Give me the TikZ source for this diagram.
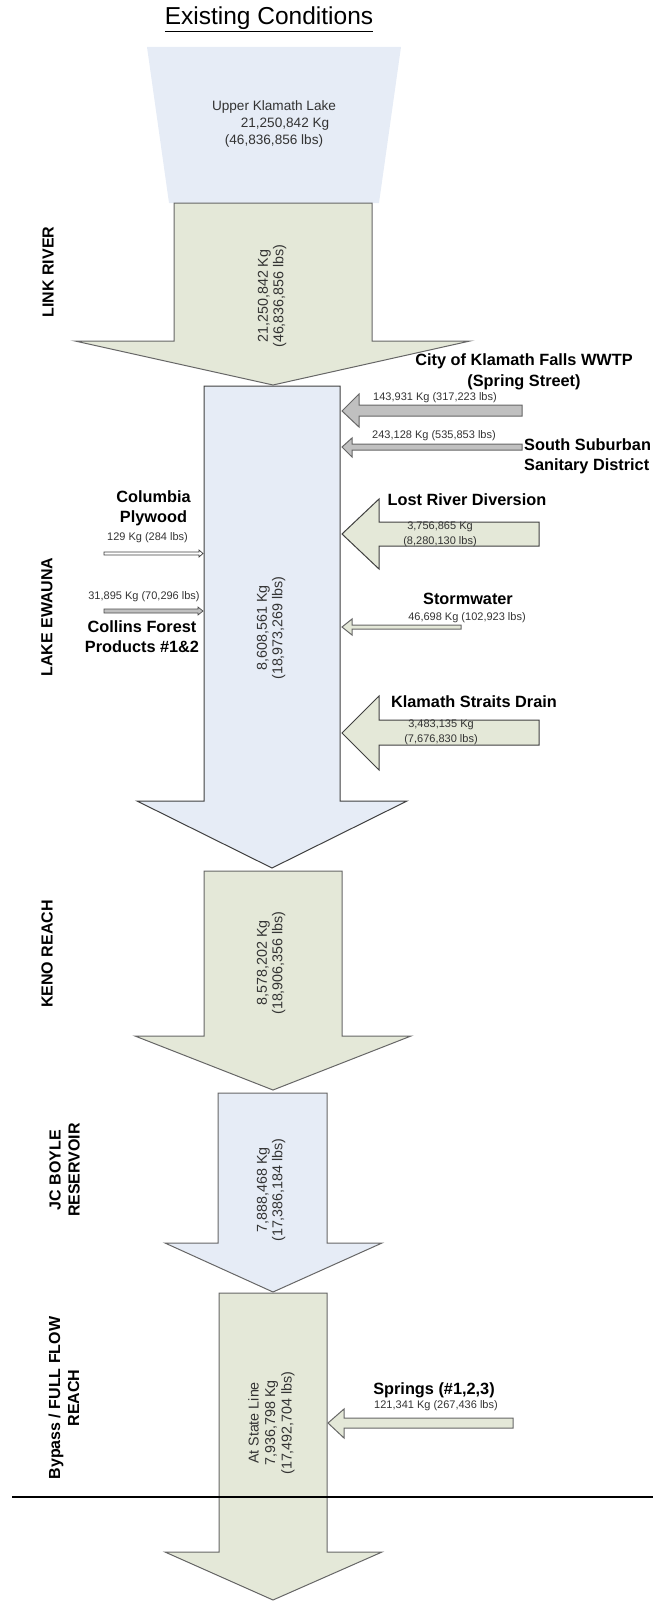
\documentclass[tikz,border=0pt]{standalone}
\usepackage{fontspec}
\setmainfont{Liberation Sans}
\usepackage{tikz}
\usepackage{xcolor}
\usetikzlibrary{positioning}

\definecolor{lakeblue}{RGB}{230,236,246}
\definecolor{reachgreen}{RGB}{228,232,216}
\definecolor{inflowgray}{RGB}{192,192,192}

\begin{document}
\begin{tikzpicture}[x=1pt, y=-1pt,
  flowbody/.style={draw=black!60, line width=1pt, line join=miter},
  sidelbl/.style={font=\bfseries\fontsize{16.3}{19.5}\selectfont, align=center, inner sep=0pt},
  loadlbl/.style={font=\fontsize{11}{15}\selectfont, align=center, inner sep=0pt, text=black!80},
  reachlbl/.style={font=\bfseries\fontsize{16}{19}\selectfont, rotate=90, align=center, inner sep=0pt},
  loadtxt/.style={font=\fontsize{14.3}{15.5}\selectfont, rotate=90, align=center, inner sep=0pt, text=black!80}]
  \useasboundingbox (0,0) rectangle (653,1603);

  % Title
  \node[font=\fontsize{24.5}{29}\selectfont, anchor=base, inner sep=0pt] (title) at (269,25) {\underline{Existing Conditions}};

  % Upper Klamath Lake
  \fill[lakeblue] (147,47) -- (401,47) -- (379,203) -- (169,203) -- cycle;
  \node[font=\fontsize{13.6}{17}\selectfont, align=center, text=black!80, inner sep=0pt] (ukl) at (274,124)
    {Upper Klamath Lake\\\hspace*{22pt}21,250,842 Kg\\(46,836,856 lbs)};

  % Link River
  \draw[flowbody, fill=reachgreen] (174,203) -- (372,203) -- (372,341) -- (470,341) -- (273,385) -- (75,341) -- (174,341) -- cycle;
  \node[loadtxt] (linkload) at (272,296) {21,250,842 Kg\\(46,836,856 lbs)};
  \node[reachlbl] (linkriver) at (48,272) {LINK RIVER};

  % Lake Ewauna
  \draw[flowbody, draw=black!75, fill=lakeblue] (204,386) -- (340,386) -- (340,801) -- (407,801) -- (272,868) -- (137,801) -- (204,801) -- cycle;
  \node[loadtxt] (ewaunaload) at (271,628) {8,608,561 Kg\\(18,973,269 lbs)};
  \node[reachlbl] (ewauna) at (47,617) {LAKE EWAUNA};

  % Inflows from the right
  \draw[flowbody, fill=inflowgray] (342,411) -- (359,394) -- (359,405) -- (522,405) -- (522,416) -- (359,416) -- (359,427) -- cycle;
  \node[sidelbl, font=\bfseries\fontsize{16.3}{21}\selectfont] (wwtp) at (524,371.5) {City of Klamath Falls WWTP\\(Spring Street)};
  \node[loadlbl] (wwtpload) at (435,398) {143,931 Kg (317,223 lbs)};

  \draw[flowbody, fill=inflowgray] (342,447) -- (352,438) -- (352,444) -- (522,444) -- (522,450) -- (352,450) -- (352,457) -- cycle;
  \node[loadlbl] (ssload) at (434,436) {243,128 Kg (535,853 lbs)};
  \node[sidelbl, align=left, anchor=west] (ssd) at (524,456.5) {South Suburban\\Sanitary District};

  \draw[flowbody, draw=black!75, fill=reachgreen] (342,534) -- (379,499) -- (379,522) -- (539,522) -- (539,546) -- (379,546) -- (379,569) -- cycle;
  \node[sidelbl] (lostriver) at (467,500) {Lost River Diversion};
  \node[loadlbl] (lostload) at (440,534.5) {3,756,865 Kg\\(8,280,130 lbs)};

  \draw[flowbody, fill=reachgreen] (342,627) -- (352,619) -- (352,625) -- (461,625) -- (461,629) -- (352,629) -- (352,635) -- cycle;
  \node[sidelbl] (storm) at (468,599) {Stormwater};
  \node[loadlbl] (stormload) at (467,618) {46,698 Kg (102,923 lbs)};

  \draw[flowbody, draw=black!75, fill=reachgreen] (342,733) -- (379,696) -- (379,720) -- (539,720) -- (539,745) -- (379,745) -- (379,770) -- cycle;
  \node[sidelbl] (ksd) at (474,702) {Klamath Straits Drain};
  \node[loadlbl] (ksdload) at (441,732) {3,483,135 Kg\\(7,676,830 lbs)};

  % Inflows from the left
  \draw[draw=black!75, line width=0.7pt, fill=white] (104,552) -- (199,552) -- (199,550) -- (203,553.5) -- (199,557) -- (199,555) -- (104,555) -- cycle;
  \node[sidelbl] (columbia) at (153.5,508.5) {Columbia\\Plywood};
  \node[loadlbl] (columbiaload) at (147.5,538) {129 Kg (284 lbs)};

  \draw[draw=black!70, line width=0.7pt, fill=inflowgray] (104,609) -- (198,609) -- (198,607) -- (203,611) -- (198,615) -- (198,613) -- (104,613) -- cycle;
  \node[loadlbl] (collinsload) at (144,597) {31,895 Kg (70,296 lbs)};
  \node[sidelbl] (collins) at (142,636.5) {Collins Forest\\Products \#1\&2};

  % Keno Reach
  \draw[flowbody, fill=reachgreen] (204,871) -- (342,871) -- (342,1036) -- (411,1036) -- (273,1090) -- (135,1036) -- (204,1036) -- cycle;
  \node[loadtxt] (kenoload) at (271,963) {8,578,202 Kg\\(18,906,356 lbs)};
  \node[reachlbl] (keno) at (47,954) {KENO REACH};

  % JC Boyle Reservoir
  \draw[flowbody, fill=lakeblue] (218,1093) -- (327,1093) -- (327,1243) -- (382,1243) -- (273,1292) -- (165,1243) -- (218,1243) -- cycle;
  \node[loadtxt] (boyleload) at (271,1190) {7,888,468 Kg\\(17,386,184 lbs)};
  \node[reachlbl] (boyle) at (64.5,1170) {JC BOYLE\\RESERVOIR};

  % Bypass / full flow reach
  \draw[flowbody, fill=reachgreen] (219,1293) -- (327,1293) -- (327,1552) -- (382,1552) -- (273,1600) -- (165,1552) -- (219,1552) -- cycle;
  \node[loadtxt, font=\fontsize{14.3}{16.5}\selectfont] (stateload) at (271.5,1423) {At State Line\\7,936,798 Kg\\(17,492,704 lbs)};
  \node[reachlbl] (bypass) at (64,1398) {Bypass / FULL FLOW\\REACH};

  \draw[flowbody, fill=reachgreen] (328,1423) -- (344,1409) -- (344,1418) -- (513,1418) -- (513,1428) -- (344,1428) -- (344,1438) -- cycle;
  \node[sidelbl] (springs) at (434,1390) {Springs (\#1,2,3)};
  \node[loadlbl] (springsload) at (436,1406) {121,341 Kg (267,436 lbs)};

  % State line
  \draw[line width=2.5pt] (12,1497) -- (653,1497);
\end{tikzpicture}
\end{document}
